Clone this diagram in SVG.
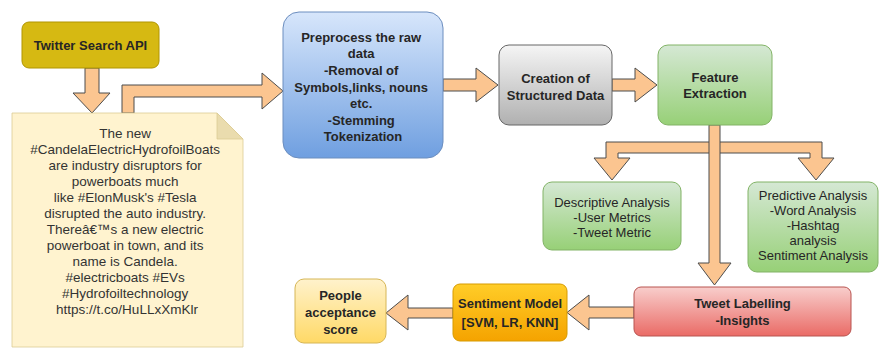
<svg xmlns="http://www.w3.org/2000/svg" width="879" height="348" viewBox="0 0 879 348">
<defs>
<linearGradient id="gBlue" x1="0" y1="0" x2="0" y2="1"><stop offset="0" stop-color="#d7e6fb"/><stop offset="1" stop-color="#6f9fe0"/></linearGradient>
<linearGradient id="gGray" x1="0" y1="0" x2="0" y2="1"><stop offset="0" stop-color="#f5f5f5"/><stop offset="1" stop-color="#b0b0b0"/></linearGradient>
<linearGradient id="gGreen" x1="0" y1="0" x2="0" y2="1"><stop offset="0" stop-color="#d5e8d4"/><stop offset="1" stop-color="#97d077"/></linearGradient>
<linearGradient id="gRed" x1="0" y1="0" x2="0" y2="1"><stop offset="0" stop-color="#f8cecc"/><stop offset="1" stop-color="#ea6b66"/></linearGradient>
<linearGradient id="gOrange" x1="0" y1="0" x2="0" y2="1"><stop offset="0" stop-color="#ffcd28"/><stop offset="1" stop-color="#f5a300"/></linearGradient>
<linearGradient id="gYellow" x1="0" y1="0" x2="0" y2="1"><stop offset="0" stop-color="#fff2cc"/><stop offset="1" stop-color="#ffd966"/></linearGradient>
</defs>
<style>
text{font-family:"Liberation Sans",Arial,sans-serif;fill:#262626;text-anchor:middle}
.b{font-weight:bold;font-size:13px}
.r{font-size:13px}
.n{font-size:13.5px;fill:#333}
.arrow{fill:#fbc590;stroke:#4d4d4d;stroke-width:1;stroke-linejoin:miter}
</style>
<rect width="879" height="348" fill="#ffffff"/>

<g id="connectors">
<polygon class="arrow" points="85,68 99,68 99,93 110,93 92,113 73,93 85,93"/>
<polygon class="arrow" points="122,113 122,85 262,85 262,73 283,91 262,109 262,97 134,97 134,113"/>
<polygon class="arrow" points="443,79 476,79 476,68 498,85 476,102 476,91 443,91"/>
<polygon class="arrow" points="612,79 635,79 635,68 657,85 635,102 635,91 612,91"/>
<polygon class="arrow" points="606,142 822,142 822,158 834,158 816,180 798,158 810,158 810,153 618,153 618,158 630,158 612,180 594,158 606,158"/>
<polygon class="arrow" points="709,125 720,125 720,263 731,263 714.5,285 698,263 709,263"/>
<polygon class="arrow" points="634,307 589,307 589,295 567,312.5 589,330 589,318 634,318"/>
<polygon class="arrow" points="453,308 408,308 408,295 386,313 408,330 408,318 453,318"/>
</g>

<g id="twitter">
<rect x="22" y="22" width="137" height="46" rx="7" fill="#d6b912" stroke="#b09500"/>
<text class="b" x="90.5" y="49.5">Twitter Search API</text>
</g>

<g id="tweet-note">
<path d="M12,113 H217 L243,139 V347 H12 Z" fill="#fff3cf" stroke="#dccb94" stroke-width="0.8"/>
<path d="M217,113 V139 H243 Z" fill="#eadcae" stroke="#dccb94" stroke-width="0.8"/>
<text class="n">
<tspan x="127" y="138">The new</tspan>
<tspan x="127" y="154">#CandelaElectricHydrofoilBoats</tspan>
<tspan x="127" y="170">are industry disruptors for</tspan>
<tspan x="127" y="186">powerboats much</tspan>
<tspan x="127" y="202">like #ElonMusk's #Tesla</tspan>
<tspan x="127" y="218">disrupted the auto industry.</tspan>
<tspan x="127" y="234">Thereâ€™s a new electric</tspan>
<tspan x="127" y="250">powerboat in town, and its</tspan>
<tspan x="127" y="266">name is Candela.</tspan>
<tspan x="127" y="282">#electricboats #EVs</tspan>
<tspan x="127" y="298">#Hydrofoiltechnology</tspan>
<tspan x="127" y="314">https://t.co/HuLLxXmKlr</tspan>
</text>
</g>

<g id="preprocess">
<rect x="283" y="12" width="160" height="146" rx="16" fill="url(#gBlue)" stroke="#6c8ebf"/>
<text class="b">
<tspan x="363" y="41.5">Preprocess the raw</tspan>
<tspan x="363" y="58">data</tspan>
<tspan x="363" y="74.5">-Removal of</tspan>
<tspan x="363" y="91.5">Symbols,links, nouns</tspan>
<tspan x="363" y="108">etc.</tspan>
<tspan x="363" y="124.5">-Stemming</tspan>
<tspan x="363" y="141">Tokenization</tspan>
</text>
</g>

<g id="creation">
<rect x="499" y="45" width="113" height="80" rx="10" fill="url(#gGray)" stroke="#666666"/>
<text class="b"><tspan x="555.5" y="83">Creation of</tspan><tspan x="555.5" y="99.5">Structured Data</tspan></text>
</g>

<g id="feature">
<rect x="658" y="45" width="114" height="80" rx="10" fill="url(#gGreen)" stroke="#82b366"/>
<text class="b"><tspan x="715" y="82">Feature</tspan><tspan x="715" y="98">Extraction</tspan></text>
</g>

<g id="descriptive">
<rect x="543" y="182" width="138" height="68" rx="9" fill="url(#gGreen)" stroke="#82b366"/>
<text class="r"><tspan x="612" y="206.5">Descriptive Analysis</tspan><tspan x="612" y="221.5">-User Metrics</tspan><tspan x="612" y="236.5">-Tweet Metric</tspan></text>
</g>

<g id="predictive">
<rect x="748" y="182" width="130" height="90" rx="9" fill="url(#gGreen)" stroke="#82b366"/>
<text class="r"><tspan x="813" y="199.5">Predictive Analysis</tspan><tspan x="813" y="214.5">-Word Analysis</tspan><tspan x="813" y="229.5">-Hashtag</tspan><tspan x="813" y="244.5">analysis</tspan><tspan x="813" y="259.5">Sentiment Analysis</tspan></text>
</g>

<g id="tweet-labelling">
<rect x="634" y="287" width="217" height="49" rx="7" fill="url(#gRed)" stroke="#b85450"/>
<text class="b"><tspan x="742.5" y="307.5">Tweet Labelling</tspan><tspan x="742.5" y="324.5">-Insights</tspan></text>
</g>

<g id="sentiment-model">
<rect x="453" y="284" width="114" height="57" rx="7" fill="url(#gOrange)" stroke="#d79b00"/>
<text class="b"><tspan x="510" y="307.5">Sentiment Model</tspan><tspan x="510" y="326.5">[SVM, LR, KNN]</tspan></text>
</g>

<g id="people">
<rect x="295" y="279" width="91" height="64" rx="9" fill="url(#gYellow)" stroke="#d6b656"/>
<text class="b"><tspan x="340.5" y="299.5">People</tspan><tspan x="340.5" y="316.5">acceptance</tspan><tspan x="340.5" y="333.5">score</tspan></text>
</g>
</svg>
